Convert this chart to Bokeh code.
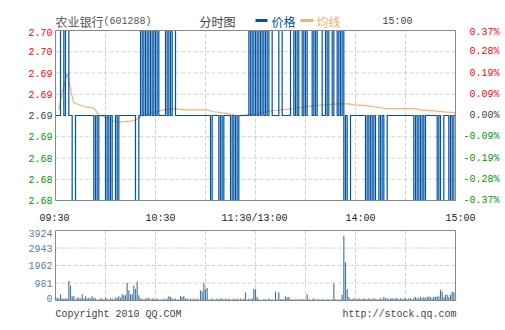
from bokeh.plotting import figure
from bokeh.models import Range1d, ColumnDataSource
from bokeh.embed import file_html
from bokeh.resources import INLINE
from bokeh.core.properties import value

# ---------------- data ----------------
prev_close = 2.69
minutes = list(range(241))
price = [
    2.69, 2.69, 2.69, 2.70, 2.70, 2.69, 2.70, 2.70, 2.69, 2.69,
    2.68, 2.68, 2.69, 2.69, 2.69, 2.69, 2.69, 2.69, 2.69, 2.69,
    2.69, 2.69, 2.69, 2.68, 2.69, 2.68, 2.69, 2.69, 2.69, 2.69,
    2.68, 2.69, 2.68, 2.69, 2.68, 2.68, 2.69, 2.68, 2.69, 2.69,
    2.69, 2.69, 2.69, 2.69, 2.69, 2.69, 2.69, 2.69, 2.68, 2.68,
    2.69, 2.70, 2.69, 2.70, 2.69, 2.70, 2.69, 2.70, 2.69, 2.70,
    2.69, 2.70, 2.69, 2.69, 2.69, 2.69, 2.70, 2.69, 2.70, 2.69,
    2.70, 2.70, 2.69, 2.69, 2.69, 2.69, 2.69, 2.69, 2.69, 2.69,
    2.69, 2.69, 2.69, 2.69, 2.69, 2.69, 2.69, 2.69, 2.69, 2.69,
    2.69, 2.69, 2.69, 2.68, 2.69, 2.69, 2.69, 2.69, 2.68, 2.69,
    2.68, 2.69, 2.69, 2.69, 2.69, 2.68, 2.69, 2.68, 2.69, 2.68,
    2.69, 2.69, 2.69, 2.69, 2.69, 2.69, 2.70, 2.69, 2.70, 2.69,
    2.70, 2.69, 2.70, 2.69, 2.70, 2.69, 2.70, 2.69, 2.70, 2.70,
    2.69, 2.69, 2.69, 2.69, 2.70, 2.70, 2.69, 2.69, 2.69, 2.69,
    2.69, 2.70, 2.70, 2.69, 2.70, 2.69, 2.70, 2.70, 2.69, 2.70,
    2.69, 2.70, 2.70, 2.70, 2.69, 2.70, 2.69, 2.70, 2.70, 2.70,
    2.69, 2.69, 2.70, 2.69, 2.70, 2.70, 2.69, 2.70, 2.70, 2.69,
    2.70, 2.69, 2.70, 2.68, 2.69, 2.68, 2.68, 2.69, 2.69, 2.69,
    2.69, 2.69, 2.69, 2.69, 2.69, 2.69, 2.68, 2.69, 2.68, 2.69,
    2.68, 2.69, 2.68, 2.68, 2.69, 2.68, 2.69, 2.68, 2.68, 2.69,
    2.69, 2.69, 2.69, 2.69, 2.69, 2.69, 2.69, 2.69, 2.69, 2.69,
    2.69, 2.69, 2.69, 2.69, 2.69, 2.68, 2.69, 2.68, 2.69, 2.68,
    2.69, 2.68, 2.69, 2.69, 2.69, 2.69, 2.69, 2.69, 2.69, 2.68,
    2.69, 2.68, 2.68, 2.69, 2.69, 2.69, 2.68, 2.69, 2.68, 2.69,
    2.69,
]
avg_minutes = [2, 4, 5, 7, 8, 10, 11, 14, 17, 23, 26, 31, 37, 47, 50, 53, 59,
               65, 71, 78, 91, 94, 99, 105, 109, 115, 121, 125, 131, 143, 149,
               155, 161, 169, 176, 179, 185, 190, 194, 198, 215, 219, 227, 233,
               239, 240]
avg_price = [2.69067, 2.6928, 2.6934, 2.69498, 2.6942, 2.6922, 2.69153,
             2.69126, 2.69106, 2.69086, 2.69008, 2.68968, 2.68918, 2.68938,
             2.6897, 2.69008, 2.69035, 2.69067, 2.69082, 2.69067, 2.69067,
             2.69047, 2.69035, 2.69016, 2.68996, 2.69008, 2.6902, 2.69035,
             2.69059, 2.69082, 2.69098, 2.69114, 2.69126, 2.69137, 2.69137,
             2.69126, 2.69118, 2.69106, 2.69094, 2.69082, 2.69082, 2.69067,
             2.69055, 2.69043, 2.69035, 2.6902]
volume = [
    150, 160, 110, 345, 110, 110, 110, 110, 1110, 835,
    240, 240, 60, 160, 160, 110, 345, 110, 240, 110,
    160, 110, 240, 160, 110, 60, 60, 110, 110, 60,
    160, 110, 60, 110, 110, 60, 160, 160, 240, 160,
    345, 290, 290, 1000, 570, 345, 345, 835, 650, 1060,
    290, 110, 110, 60, 110, 110, 160, 60, 110, 110,
    60, 110, 60, 60, 60, 110, 60, 110, 240, 200,
    110, 60, 110, 60, 60, 250, 200, 250, 110, 110,
    60, 110, 60, 110, 60, 110, 60, 570, 500, 1000,
    650, 700, 60, 60, 110, 60, 60, 110, 60, 110,
    110, 60, 110, 60, 110, 60, 60, 110, 60, 110,
    60, 110, 60, 110, 450, 60, 110, 60, 110, 650,
    630, 190, 75, 40, 40, 75, 75, 40, 130, 40,
    75, 40, 500, 75, 465, 75, 75, 75, 220, 170,
    200, 75, 75, 40, 75, 75, 40, 75, 75, 75,
    40, 350, 75, 40, 75, 130, 40, 75, 75, 40,
    75, 75, 40, 75, 75, 40, 75, 970, 75, 75,
    40, 75, 320, 3630, 2140, 630, 190, 75, 75, 130,
    75, 75, 130, 75, 75, 130, 75, 75, 130, 75,
    75, 130, 75, 75, 75, 130, 75, 190, 130, 130,
    75, 130, 130, 75, 130, 130, 75, 130, 75, 130,
    130, 75, 130, 130, 75, 130, 200, 130, 130, 200,
    130, 200, 130, 200, 220, 200, 130, 220, 200, 220,
    220, 600, 500, 200, 320, 320, 200, 320, 500, 450,
    450,
]
price_ticks = [2.68, 2.6825, 2.685, 2.6875, 2.69, 2.6925, 2.695, 2.6975, 2.70]
price_labels = ["2.68", "2.68", "2.68", "2.69", "2.69", "2.69", "2.69", "2.70", "2.70"]
pct_labels = ["-0.37%", "-0.28%", "-0.19%", "-0.09%", "0.00%", "0.09%", "0.19%", "0.28%", "0.37%"]
time_ticks = [0, 60, 120, 180, 240]
time_labels = ["09:30", "10:30", "11:30/13:00", "14:00", "15:00"]
grid_minutes = [30, 60, 90, 120, 150, 180, 210]
vol_ticks = [0, 981, 1962, 2943, 3924]
vol_labels = ["0", "981", "1962", "2943", "3924"]

# ---------------- styles ----------------
BLUE = "#0052a3"
ORANGE = "#f3b070"
RED = "#ff0000"
GREEN = "#009a00"
NEUTRAL = "#444444"
VOLC = "#4a78a2"
VOLTXT = "#5a80a8"
GRIDC = "#d2d2d2"
BORDER = "#888888"
MONO = "Liberation Mono"
CJK = "Noto Sans CJK SC"

W, H = 505, 330
T0, T1 = time_ticks[0], time_ticks[-1]
P0, P1 = price_ticks[0], price_ticks[-1]
V0, V1 = vol_ticks[0], vol_ticks[-1]
# panel placement in pixels
PL, PR = 55, 455           # both panels, left/right
PT, PB = 30, 200           # price panel top/bottom
VT, VB = 230, 300          # volume panel top/bottom

kx = (PR - PL) / (T1 - T0)
kp = (PB - PT) / (P1 - P0)
kv = (VB - VT) / (V1 - V0)
x_range = Range1d(T0 - PL / kx, T1 + (W - PR) / kx)
y_range = Range1d(P0 - (H - PB) / kp, P1 + PT / kp)
vol_range = Range1d(V0 - (H - VB) / kv, V1 + VT / kv)


def px_to_min(px):
    return T0 + (px - PL) / kx


def py_to_price(py):
    return P1 - (py - PT) / kp


def colour_for(p):
    if p > prev_close + 1e-9:
        return RED
    if p < prev_close - 1e-9:
        return GREEN
    return NEUTRAL


p = figure(width=W, height=H, output_backend="svg", toolbar_location=None,
           x_range=x_range, y_range=y_range,
           x_axis_location=None, y_axis_location=None,
           min_border=0, min_border_left=0, min_border_right=0,
           min_border_top=0, min_border_bottom=0)
p.extra_y_ranges = {"vol": vol_range}
p.outline_line_color = None
p.background_fill_color = "white"
p.border_fill_color = "white"
p.xgrid.visible = False
p.ygrid.visible = False

DASH = "4 2"
# ---- price panel grid ----
n = len(grid_minutes)
p.segment(x0=grid_minutes, x1=grid_minutes, y0=[P0] * n, y1=[P1] * n,
          line_color=GRIDC, line_dash=DASH, line_width=1)
inner = price_ticks[1:-1]
p.segment(x0=[T0] * len(inner), x1=[T1] * len(inner), y0=inner, y1=inner,
          line_color=GRIDC, line_dash=DASH, line_width=1)
# ---- volume panel grid ----
p.segment(x0=grid_minutes, x1=grid_minutes, y0=[V0] * n, y1=[V1] * n,
          line_color=GRIDC, line_dash=DASH, line_width=1, y_range_name="vol")
vin = vol_ticks[1:-1]
p.segment(x0=[T0] * len(vin), x1=[T1] * len(vin), y0=vin, y1=vin,
          line_color=GRIDC, line_dash=DASH, line_width=1, y_range_name="vol")

# ---- series ----
p.line(avg_minutes, avg_price, line_color=ORANGE, line_width=1.2)
p.step(minutes, price, mode="after", line_color=BLUE, line_width=1.2)
p.vbar(x=minutes, top=volume, bottom=0, width=0.7, fill_color=VOLC,
       line_color=None, y_range_name="vol")

# ---- panel borders ----
p.quad(left=[T0], right=[T1], bottom=[P0], top=[P1], fill_color=None,
       line_color=BORDER, line_width=1)
p.quad(left=[T0], right=[T1], bottom=[V0], top=[V1], fill_color=None,
       line_color=BORDER, line_width=1, y_range_name="vol")

# ---- price axis labels ----
cols = [colour_for(t) for t in price_ticks]
yoff = [2 if t == P1 else 0 for t in price_ticks]
ls = ColumnDataSource(dict(x=[T0] * len(price_ticks), y=price_ticks,
                           text=price_labels, c=cols, yo=yoff))
p.text(x="x", y="y", text="text", source=ls, x_offset=-3, y_offset="yo",
       text_align="right", text_baseline="middle", text_color="c",
       text_font=value(MONO), text_font_size=value("10px"))
rs = ColumnDataSource(dict(x=[T1] * len(price_ticks), y=price_ticks,
                           text=pct_labels, c=cols, yo=yoff))
p.text(x="x", y="y", text="text", source=rs, x_offset=44, y_offset="yo",
       text_align="right", text_baseline="middle", text_color="c",
       text_font=value(MONO), text_font_size=value("10px"))

# ---- time labels ----
time_xoff = [-1, 5, -1, 5, 5]
ts = ColumnDataSource(dict(x=time_ticks, y=[P0] * len(time_ticks),
                           text=time_labels, xo=time_xoff))
p.text(x="x", y="y", text="text", source=ts, x_offset="xo", y_offset=17.5,
       text_align="center", text_baseline="middle", text_color="#222222",
       text_font=value(MONO), text_font_size=value("10px"))

# ---- volume labels ----
vyo = [-2.5 if t == V0 else (3 if t == V1 else 0) for t in vol_ticks]
vs = ColumnDataSource(dict(x=[T0] * len(vol_ticks), y=vol_ticks,
                           text=vol_labels, yo=vyo))
p.text(x="x", y="y", text="text", source=vs, x_offset=-3, y_offset="yo",
       text_align="right", text_baseline="middle", text_color=VOLTXT,
       text_font=value(MONO), text_font_size=value("10px"),
       y_range_name="vol")

# ---- header ----
def head(text, xo, color, font, size):
    p.text(x=[T0], y=[P1], text=[text], x_offset=xo, y_offset=-9,
           text_align="left", text_baseline="middle", text_color=color,
           text_font=value(font), text_font_size=value(size))


head("农业银行", 0, "#555555", CJK, "12px")
head("(601288)", 48, "#555555", MONO, "10px")
head("分时图", 144, "#444444", CJK, "12px")
head("价格", 216, BLUE, CJK, "12px")
head("均线", 261, ORANGE, CJK, "12px")
head("15:00", 327, "#444444", MONO, "10px")
# legend keys
p.segment(x0=[px_to_min(255)], x1=[px_to_min(267)],
          y0=[py_to_price(20)], y1=[py_to_price(20)],
          line_color=BLUE, line_width=3)
p.segment(x0=[px_to_min(300)], x1=[px_to_min(313)],
          y0=[py_to_price(20)], y1=[py_to_price(20)],
          line_color=ORANGE, line_width=3)

# ---- footer ----
p.text(x=[T0], y=[V0], text=["Copyright 2010 QQ.COM"], y_offset=14,
       text_align="left", text_baseline="middle", text_color="#444444",
       text_font=value(MONO), text_font_size=value("10px"), y_range_name="vol")
p.text(x=[T1], y=[V0], text=["http://stock.qq.com"], x_offset=1, y_offset=14,
       text_align="right", text_baseline="middle", text_color="#444444",
       text_font=value(MONO), text_font_size=value("10px"), y_range_name="vol")

open("out.html", "w").write(file_html(p, INLINE))
